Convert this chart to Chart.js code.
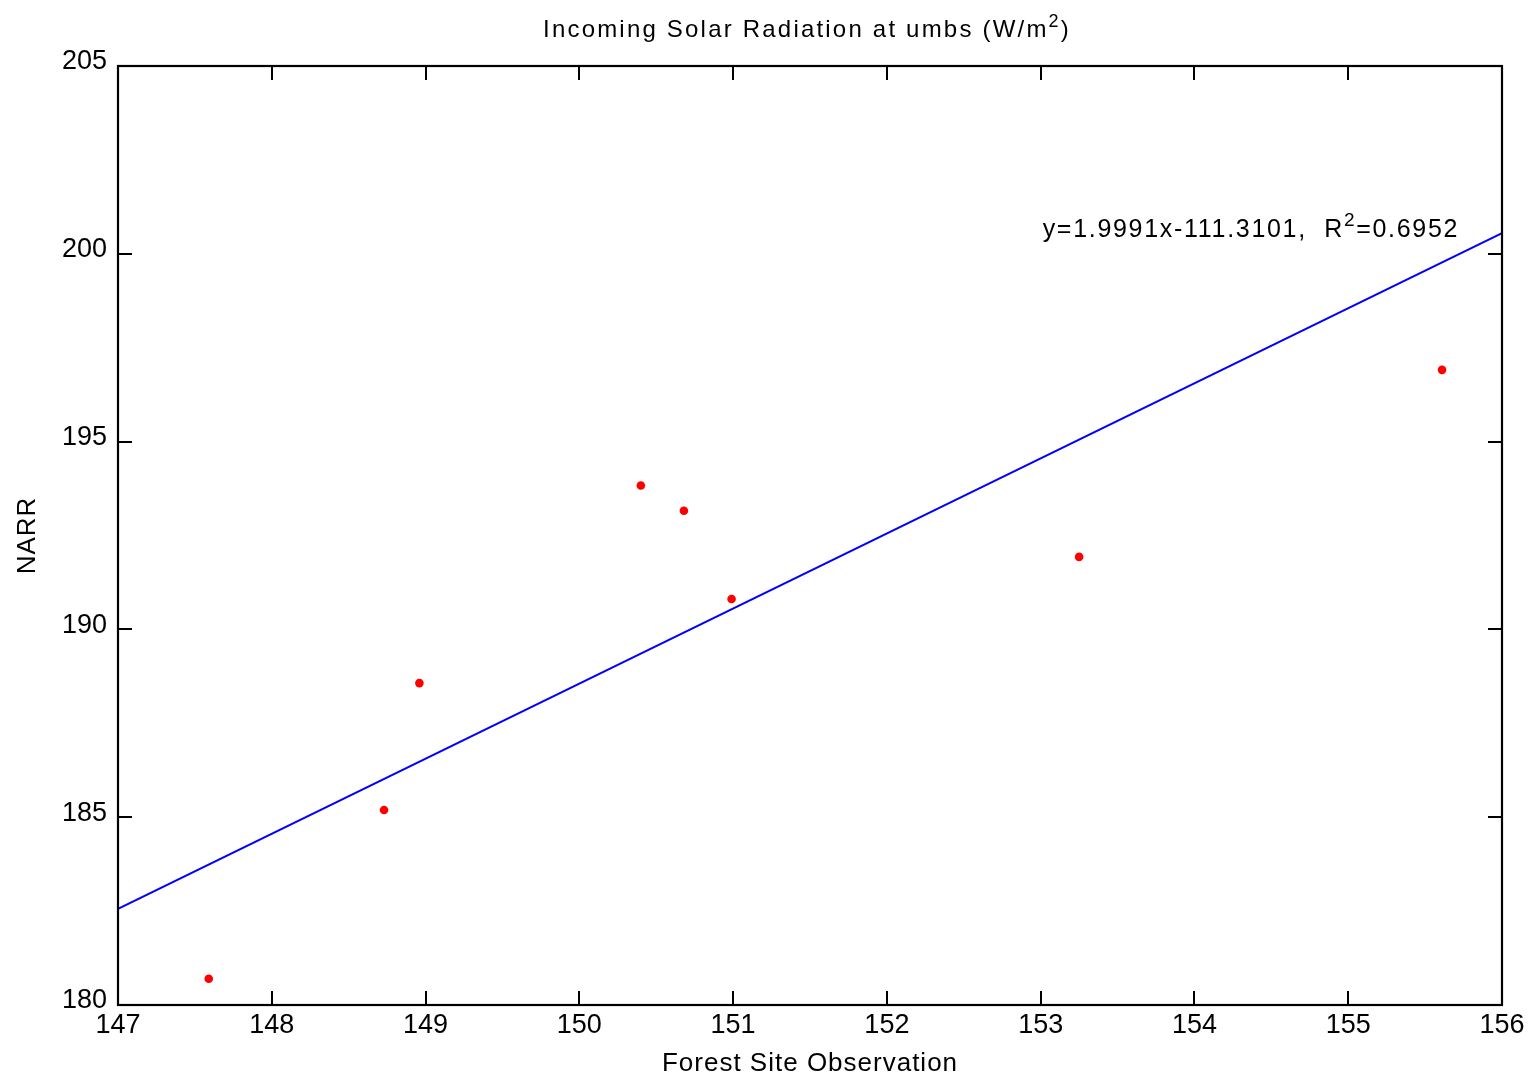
<!DOCTYPE html>
<html><head><meta charset="utf-8">
<script src="https://cdn.jsdelivr.net/npm/chart.js@4/dist/chart.umd.min.js"></script>
<style>html,body{margin:0;padding:0;background:#fff;overflow:hidden}</style>
</head><body>
<canvas id="c" width="1537" height="1078"></canvas>
<script>
// ---- data ----
const obsX  = [147.59, 148.73, 148.96, 150.40, 150.68, 150.99, 153.25, 155.61];
const narrY = [180.70, 185.19, 188.57, 193.83, 193.16, 190.81, 191.93, 196.91];
const fitX  = [147, 156];
const fitY  = [182.56, 200.55];
const xTicks = [147, 148, 149, 150, 151, 152, 153, 154, 155, 156];
const yTicks = [180, 185, 190, 195, 200, 205];
const titleMain = 'Incoming Solar Radiation at umbs (W/m';
const titleSup = '2';
const titleEnd = ')';
const eqMain = 'y=1.9991x-111.3101,  R';
const eqSup = '2';
const eqEnd = '=0.6952';
const eqAnchor = [153, 200.7];
const xLabel = 'Forest Site Observation';
const yLabel = 'NARR';

const FONT = "'Liberation Sans', Arial, Helvetica, sans-serif";

function drawSup(ctx, x, y, parts, size, supSize, spacing) {
  ctx.font = size + 'px ' + FONT;
  ctx.letterSpacing = spacing + 'px';
  ctx.fillText(parts[0], x, y);
  let w = ctx.measureText(parts[0]).width;
  ctx.font = supSize + 'px ' + FONT;
  ctx.fillText(parts[1], x + w, y - size * 0.42);
  w += ctx.measureText(parts[1]).width;
  ctx.font = size + 'px ' + FONT;
  ctx.fillText(parts[2], x + w, y);
  ctx.letterSpacing = '0px';
}
function measureSup(ctx, parts, size, supSize, spacing) {
  ctx.letterSpacing = spacing + 'px';
  ctx.font = size + 'px ' + FONT;
  let w = ctx.measureText(parts[0]).width + ctx.measureText(parts[2]).width;
  ctx.font = supSize + 'px ' + FONT;
  w += ctx.measureText(parts[1]).width;
  ctx.letterSpacing = '0px';
  return w;
}

const decor = {
  id: 'decor',
  afterDraw(chart) {
    const ctx = chart.ctx;
    const a = chart.chartArea;
    const xs = chart.scales.x, ys = chart.scales.y;
    ctx.save();
    ctx.strokeStyle = '#000';
    ctx.lineWidth = 2.2;
    ctx.strokeRect(a.left, a.top, a.right - a.left, a.bottom - a.top);
    const TL = 14;
    ctx.lineWidth = 2;
    ctx.beginPath();
    xTicks.forEach(v => {
      const px = Math.round(xs.getPixelForValue(v));
      ctx.moveTo(px, a.bottom); ctx.lineTo(px, a.bottom - TL);
      ctx.moveTo(px, a.top); ctx.lineTo(px, a.top + TL);
    });
    yTicks.forEach(v => {
      const py = Math.round(ys.getPixelForValue(v));
      ctx.moveTo(a.left, py); ctx.lineTo(a.left + TL, py);
      ctx.moveTo(a.right, py); ctx.lineTo(a.right - TL, py);
    });
    ctx.stroke();

    ctx.fillStyle = '#000';
    ctx.textBaseline = 'alphabetic';
    ctx.textAlign = 'left';
    // title
    const tparts = [titleMain, titleSup, titleEnd];
    const tw = measureSup(ctx, tparts, 24, 18, 2.2);
    const cx = (a.left + a.right) / 2;
    drawSup(ctx, cx - tw / 2 - 3, 37, tparts, 24, 18, 2.2);
    // equation
    const ex = xs.getPixelForValue(eqAnchor[0]);
    const ey = ys.getPixelForValue(eqAnchor[1]);
    drawSup(ctx, ex + 2, ey + 9, [eqMain, eqSup, eqEnd], 25, 19, 1.7);
    // x label
    ctx.font = '26px ' + FONT;
    ctx.letterSpacing = '1px';
    ctx.textAlign = 'center';
    ctx.fillText(xLabel, cx, 1071);
    // y label
    ctx.translate(35, (a.top + a.bottom) / 2);
    ctx.rotate(-Math.PI / 2);
    ctx.fillText(yLabel, 0, 0);
    ctx.restore();
  }
};

new Chart(document.getElementById('c'), {
  type: 'scatter',
  data: {
    datasets: [
      {
        label: 'obs',
        data: obsX.map((x, i) => ({x, y: narrY[i]})),
        backgroundColor: '#ff0000',
        borderColor: '#ff0000',
        pointRadius: 4.3,
        pointBorderWidth: 0,
        showLine: false,
        order: 0
      },
      {
        label: 'fit',
        data: fitX.map((x, i) => ({x, y: fitY[i]})),
        borderColor: '#0000ff',
        borderWidth: 2,
        pointRadius: 0,
        showLine: true,
        fill: false,
        order: 1
      }
    ]
  },
  options: {
    responsive: false,
    animation: false,
    devicePixelRatio: 1,
    layout: { padding: { top: 66, right: 35, left: 0, bottom: 0 } },
    plugins: { legend: { display: false }, tooltip: { enabled: false }, title: { display: false } },
    scales: {
      x: {
        type: 'linear',
        min: 147, max: 156,
        afterBuildTicks: s => { s.ticks = xTicks.map(v => ({value: v})); },
        afterFit: s => { s.height = 73; },
        grid: { display: false, drawTicks: false },
        border: { display: false },
        ticks: { color: '#000', font: { family: FONT, size: 27 }, padding: 4, maxRotation: 0, autoSkip: false,
                 callback: v => String(v) }
      },
      y: {
        type: 'linear',
        min: 180, max: 205,
        afterBuildTicks: s => { s.ticks = yTicks.map(v => ({value: v})); },
        afterFit: s => { s.width = 118; },
        grid: { display: false, drawTicks: false },
        border: { display: false },
        ticks: { color: '#000', font: { family: FONT, size: 27 }, padding: 11, labelOffset: -4, autoSkip: false,
                 callback: v => String(v) }
      }
    }
  },
  plugins: [decor]
});
</script>
</body></html>
